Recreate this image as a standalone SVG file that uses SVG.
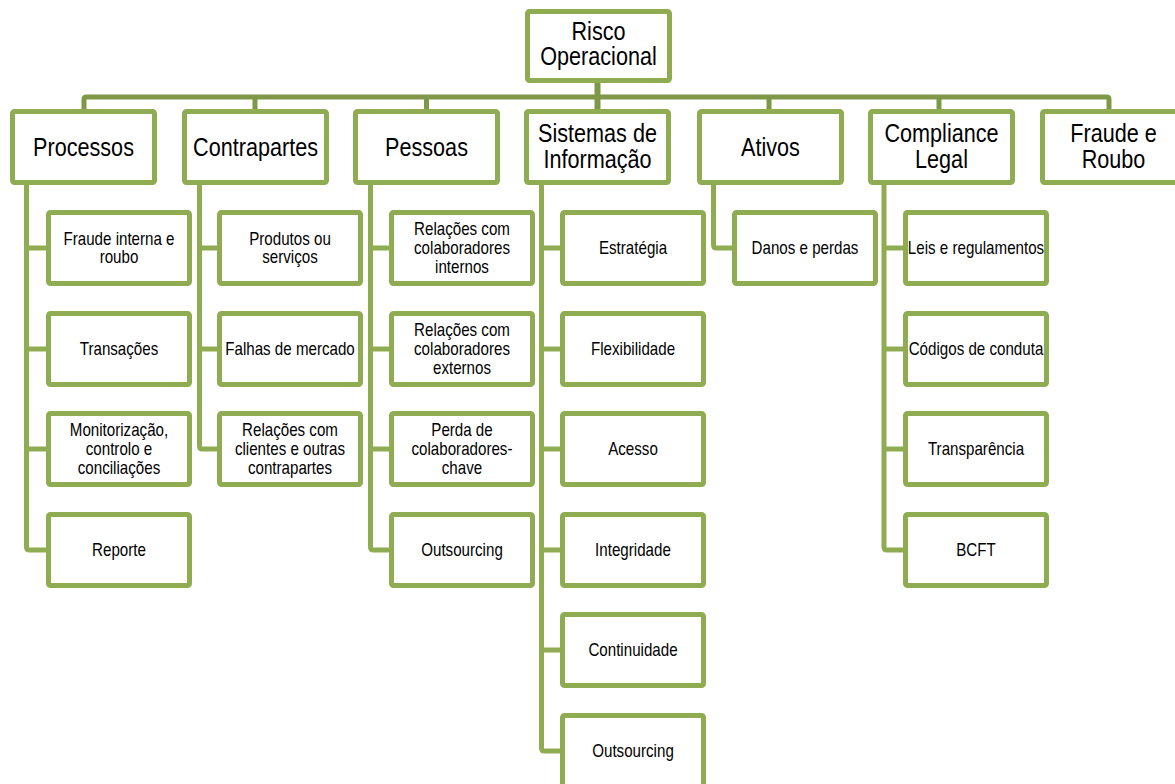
<svg xmlns="http://www.w3.org/2000/svg" width="1175" height="784" viewBox="0 0 1175 784">
<style>
.box{fill:#fff;stroke:#8FAC52;stroke-width:5}
.top{fill:none;stroke:#7E9848;stroke-width:5;stroke-linejoin:round}
.con{fill:none;stroke:#8FAC52;stroke-width:5;stroke-linejoin:round}
.t1{font-family:"Liberation Sans",Arial,sans-serif;font-size:25px;fill:#000;text-anchor:middle}
.t2{font-family:"Liberation Sans",Arial,sans-serif;font-size:17.5px;fill:#000;text-anchor:middle}
</style>
<rect width="1175" height="784" fill="#fff"/>
<g id="connectors">
<path class="top" d="M84 109V99.5Q84 97 86.5 97H1106.5Q1109 97 1109 99.5V109"/>
<path class="top" d="M255 97V109M426.5 97V109M769 97V109M939 97V109"/>
<path class="top" d="M597.5 83V109" style="stroke-width:6"/>
<path class="con" d="M26.5 185V547Q26.5 550 29.5 550H46M26.5 248H46M26.5 349H46M26.5 449H46"/>
<path class="con" d="M199.5 185V446Q199.5 449 202.5 449H217M199.5 248H217M199.5 349H217"/>
<path class="con" d="M370.5 185V547Q370.5 550 373.5 550H389M370.5 248H389M370.5 349H389M370.5 449H389"/>
<path class="con" d="M541.5 185V748Q541.5 751 544.5 751H560M541.5 248H560M541.5 349H560M541.5 449H560M541.5 550H560M541.5 650H560"/>
<path class="con" d="M713.5 185V245Q713.5 248 716.5 248H732"/>
<path class="con" d="M884 185V547Q884 550 887 550H903M884 248H903M884 349H903M884 449H903"/>
</g>
<g id="root"><rect class="box" x="527.5" y="11.5" width="142" height="69" rx="2"/>
<text class="t1" transform="translate(598.5,39.5) scale(.865 1)"><tspan x="0">Risco</tspan><tspan x="0" dy="26">Operacional</tspan></text></g>
<g id="processos"><rect class="box" x="12.5" y="111.5" width="142" height="71" rx="2"/>
<text class="t1" transform="translate(83.5,156) scale(.865 1)">Processos</text></g>
<g id="contrapartes"><rect class="box" x="184.5" y="111.5" width="142" height="71" rx="2"/>
<text class="t1" transform="translate(255.5,156) scale(.865 1)">Contrapartes</text></g>
<g id="pessoas"><rect class="box" x="355.5" y="111.5" width="142" height="71" rx="2"/>
<text class="t1" transform="translate(426.5,156) scale(.865 1)">Pessoas</text></g>
<g id="sistemas"><rect class="box" x="526.5" y="111.5" width="142" height="71" rx="2"/>
<text class="t1" transform="translate(597.5,142) scale(.865 1)"><tspan x="0">Sistemas de</tspan><tspan x="0" dy="26.5">Informação</tspan></text></g>
<g id="ativos"><rect class="box" x="699.5" y="111.5" width="142" height="71" rx="2"/>
<text class="t1" transform="translate(770.5,156) scale(.865 1)">Ativos</text></g>
<g id="compliance"><rect class="box" x="870.5" y="111.5" width="142" height="71" rx="2"/>
<text class="t1" transform="translate(941.5,142) scale(.865 1)"><tspan x="0">Compliance</tspan><tspan x="0" dy="26.5">Legal</tspan></text></g>
<g id="fraude-roubo"><rect class="box" x="1042.5" y="111.5" width="142" height="71" rx="2"/>
<text class="t1" transform="translate(1113.5,142) scale(.865 1)"><tspan x="0">Fraude e</tspan><tspan x="0" dy="26.5">Roubo</tspan></text></g>

<g id="p1"><rect class="box" x="48.5" y="212.5" width="141" height="71" rx="2"/>
<text class="t2" transform="translate(119,244.7) scale(.865 1)"><tspan x="0">Fraude interna e</tspan><tspan x="0" dy="18.6">roubo</tspan></text></g>
<g id="p2"><rect class="box" x="48.5" y="313.5" width="141" height="71" rx="2"/>
<text class="t2" transform="translate(119,355) scale(.865 1)">Transações</text></g>
<g id="p3"><rect class="box" x="48.5" y="413.5" width="141" height="71" rx="2"/>
<text class="t2" transform="translate(119,436.4) scale(.865 1)"><tspan x="0">Monitorização,</tspan><tspan x="0" dy="18.6">controlo e</tspan><tspan x="0" dy="18.6">conciliações</tspan></text></g>
<g id="p4"><rect class="box" x="48.5" y="514.5" width="141" height="71" rx="2"/>
<text class="t2" transform="translate(119,556) scale(.865 1)">Reporte</text></g>

<g id="c1"><rect class="box" x="219.5" y="212.5" width="141" height="71" rx="2"/>
<text class="t2" transform="translate(290,244.7) scale(.865 1)"><tspan x="0">Produtos ou</tspan><tspan x="0" dy="18.6">serviços</tspan></text></g>
<g id="c2"><rect class="box" x="219.5" y="313.5" width="141" height="71" rx="2"/>
<text class="t2" transform="translate(290,355) scale(.865 1)">Falhas de mercado</text></g>
<g id="c3"><rect class="box" x="219.5" y="413.5" width="141" height="71" rx="2"/>
<text class="t2" transform="translate(290,436.4) scale(.865 1)"><tspan x="0">Relações com</tspan><tspan x="0" dy="18.6">clientes e outras</tspan><tspan x="0" dy="18.6">contrapartes</tspan></text></g>

<g id="pe1"><rect class="box" x="391.5" y="212.5" width="141" height="71" rx="2"/>
<text class="t2" transform="translate(462,235.4) scale(.865 1)"><tspan x="0">Relações com</tspan><tspan x="0" dy="18.6">colaboradores</tspan><tspan x="0" dy="18.6">internos</tspan></text></g>
<g id="pe2"><rect class="box" x="391.5" y="313.5" width="141" height="71" rx="2"/>
<text class="t2" transform="translate(462,336.4) scale(.865 1)"><tspan x="0">Relações com</tspan><tspan x="0" dy="18.6">colaboradores</tspan><tspan x="0" dy="18.6">externos</tspan></text></g>
<g id="pe3"><rect class="box" x="391.5" y="413.5" width="141" height="71" rx="2"/>
<text class="t2" transform="translate(462,436.4) scale(.865 1)"><tspan x="0">Perda de</tspan><tspan x="0" dy="18.6">colaboradores-</tspan><tspan x="0" dy="18.6">chave</tspan></text></g>
<g id="pe4"><rect class="box" x="391.5" y="514.5" width="141" height="71" rx="2"/>
<text class="t2" transform="translate(462,556) scale(.865 1)">Outsourcing</text></g>

<g id="s1"><rect class="box" x="562.5" y="212.5" width="141" height="71" rx="2"/>
<text class="t2" transform="translate(633,254) scale(.865 1)">Estratégia</text></g>
<g id="s2"><rect class="box" x="562.5" y="313.5" width="141" height="71" rx="2"/>
<text class="t2" transform="translate(633,355) scale(.865 1)">Flexibilidade</text></g>
<g id="s3"><rect class="box" x="562.5" y="413.5" width="141" height="71" rx="2"/>
<text class="t2" transform="translate(633,455) scale(.865 1)">Acesso</text></g>
<g id="s4"><rect class="box" x="562.5" y="514.5" width="141" height="71" rx="2"/>
<text class="t2" transform="translate(633,556) scale(.865 1)">Integridade</text></g>
<g id="s5"><rect class="box" x="562.5" y="614.5" width="141" height="71" rx="2"/>
<text class="t2" transform="translate(633,656) scale(.865 1)">Continuidade</text></g>
<g id="s6"><rect class="box" x="562.5" y="715.5" width="141" height="71" rx="2"/>
<text class="t2" transform="translate(633,757) scale(.865 1)">Outsourcing</text></g>

<g id="a1"><rect class="box" x="734.5" y="212.5" width="141" height="71" rx="2"/>
<text class="t2" transform="translate(805,254) scale(.865 1)">Danos e perdas</text></g>

<g id="l1"><rect class="box" x="905.5" y="212.5" width="141" height="71" rx="2"/>
<text class="t2" transform="translate(976,254) scale(.865 1)">Leis e regulamentos</text></g>
<g id="l2"><rect class="box" x="905.5" y="313.5" width="141" height="71" rx="2"/>
<text class="t2" transform="translate(976,355) scale(.865 1)">Códigos de conduta</text></g>
<g id="l3"><rect class="box" x="905.5" y="413.5" width="141" height="71" rx="2"/>
<text class="t2" transform="translate(976,455) scale(.865 1)">Transparência</text></g>
<g id="l4"><rect class="box" x="905.5" y="514.5" width="141" height="71" rx="2"/>
<text class="t2" transform="translate(976,556) scale(.865 1)">BCFT</text></g>
</svg>
